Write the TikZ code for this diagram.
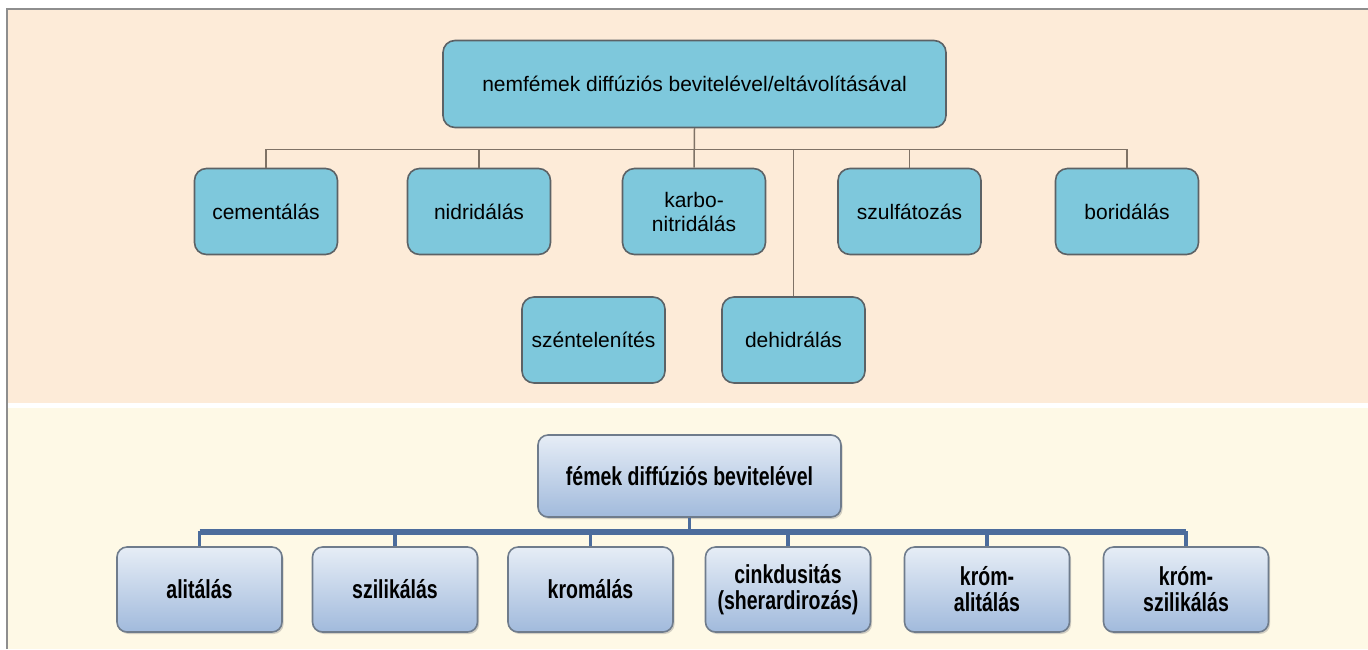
\documentclass[tikz,border=0pt]{standalone}
\usepackage{fontspec}
\setmainfont{Liberation Sans}
\newfontfamily\keskeny[FakeStretch=0.75]{Liberation Sans}
\usetikzlibrary{shadows}

\definecolor{barack}{HTML}{FDEBD8}
\definecolor{krem}{HTML}{FEF9E6}
\definecolor{keret}{HTML}{8E8E8E}
\definecolor{turkiz}{HTML}{7EC8DC}
\definecolor{szurkeel}{HTML}{5C6266}
\definecolor{barnavonal}{HTML}{7F7266}
\definecolor{kekfelso}{HTML}{E6EDF6}
\definecolor{kekalso}{HTML}{A1BADC}
\definecolor{kekel}{HTML}{6F7C8C}
\definecolor{kekvonal}{HTML}{4C6C9C}

\begin{document}
\begin{tikzpicture}[x=0.5pt,y=-0.5pt] % 1 egység = 1 képpont
\tikzstyle{nemfem} = [draw=szurkeel, fill=turkiz, line width=0.8pt, rounded corners=6pt, align=center, minimum width=71.5pt, minimum height=43pt, inner sep=2pt, font=\fontsize{10.5}{12}\selectfont] % felső dobozok
\tikzstyle{fem} = [draw=kekel, top color=kekfelso, bottom color=kekalso, line width=0.8pt, rounded corners=5pt, align=center, minimum width=82.5pt, minimum height=42.5pt, inner sep=2pt, drop shadow={opacity=0.35, shadow xshift=0.8pt, shadow yshift=-1pt}, font=\keskeny\bfseries\fontsize{13}{13}\selectfont] % alsó dobozok
\tikzstyle{vonal} = [draw=barnavonal, line width=0.75pt] % felső összekötők
\tikzstyle{kekag} = [draw=kekvonal, line width=1.6pt] % alsó összekötők
\useasboundingbox (0,0) rectangle (1368,649);
% háttér
\fill[white] (0,0) rectangle (1368,649);
\fill[barack] (8,10) rectangle (1368,403);
\fill[krem] (8,408) rectangle (1368,649);
\draw[keret, line width=1pt] (7,649) -- (7,9) -- (1368,9);
% felső rész
\node[nemfem, minimum width=251.5pt, minimum height=43.5pt] (gyoker) at (694.5,84) {nemfémek diffúziós bevitelével/eltávolításával};
\node[nemfem] (cement) at (266,211.5) {cementálás};
\node[nemfem] (nitrid) at (479,211.5) {nidridálás};
\node[nemfem] (karbo) at (694,211.5) {karbo-\\nitridálás};
\node[nemfem] (szulf) at (909.5,211.5) {szulfátozás};
\node[nemfem] (borid) at (1127,211.5) {boridálás};
\node[nemfem] (szen) at (593.5,340) {széntelenítés};
\node[nemfem] (dehidr) at (793.5,340) {dehidrálás};
\draw[vonal] (gyoker.south) -- ++(0,21) -| (cement.north);
\draw[vonal] (gyoker.south) -- ++(0,21) -| (nitrid.north);
\draw[vonal] (gyoker.south) -- (karbo.north);
\draw[vonal] (gyoker.south) -- ++(0,21) -| (szulf.north);
\draw[vonal] (gyoker.south) -- ++(0,21) -| (borid.north);
\draw[vonal] (gyoker.south) -- ++(0,21) -| (dehidr.north);
% alsó rész
\node[fem, minimum width=151.5pt, minimum height=41pt] (femgyoker) at (689.5,476) {fémek diffúziós bevitelével};
\node[fem] (alit) at (199.5,589.5) {alitálás};
\node[fem] (szilik) at (395,589.5) {szilikálás};
\node[fem] (krom) at (590.5,589.5) {kromálás};
\node[fem] (cink) at (788,589.5) {cinkdusitás\\(sherardirozás)};
\node[fem] (kromalit) at (987,589.5) {króm-\\alitálás};
\node[fem] (kromszil) at (1186,589.5) {króm-\\szilikálás};
\draw[kekvonal, line width=2.6pt] (alit.north |- 0,532) -- (kromszil.north |- 0,532);
\foreach \gyerek in {alit,szilik,krom,cink,kromalit,kromszil}
  \draw[kekag] (femgyoker.south) -- ++(0,15) -| (\gyerek.north);
\end{tikzpicture}
\end{document}
